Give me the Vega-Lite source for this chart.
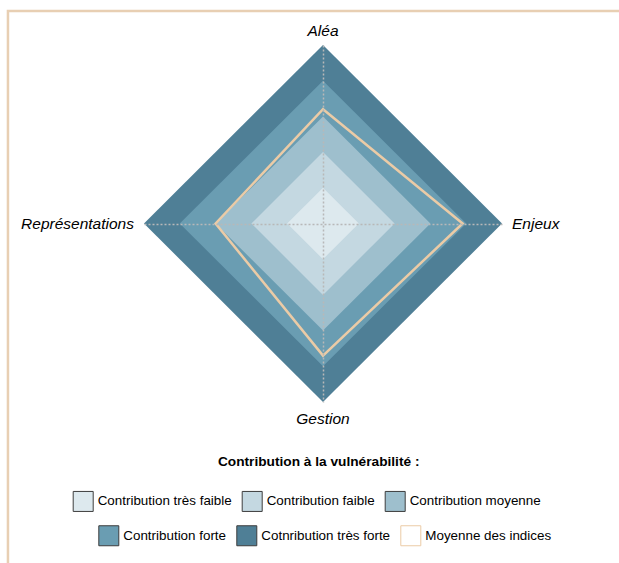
{
  "$schema": "https://vega.github.io/schema/vega-lite/v6.json",
  "width": 358,
  "height": 357,
  "autosize": {"type": "none"},
  "padding": {"left": 144, "top": 45, "right": 117, "bottom": 161},
  "background": "white",
  "config": {"font": "Liberation Sans", "view": {"stroke": null}},
  "datasets": {
    "levels": [
      {"serie": "Cotnribution très forte", "value": 5, "axis": "Enjeux"},
      {"serie": "Cotnribution très forte", "value": 5, "axis": "Aléa"},
      {"serie": "Cotnribution très forte", "value": 5, "axis": "Représentations"},
      {"serie": "Cotnribution très forte", "value": 5, "axis": "Gestion"},
      {"serie": "Contribution forte", "value": 4, "axis": "Enjeux"},
      {"serie": "Contribution forte", "value": 4, "axis": "Aléa"},
      {"serie": "Contribution forte", "value": 4, "axis": "Représentations"},
      {"serie": "Contribution forte", "value": 4, "axis": "Gestion"},
      {"serie": "Contribution moyenne", "value": 3, "axis": "Enjeux"},
      {"serie": "Contribution moyenne", "value": 3, "axis": "Aléa"},
      {"serie": "Contribution moyenne", "value": 3, "axis": "Représentations"},
      {"serie": "Contribution moyenne", "value": 3, "axis": "Gestion"},
      {"serie": "Contribution faible", "value": 2, "axis": "Enjeux"},
      {"serie": "Contribution faible", "value": 2, "axis": "Aléa"},
      {"serie": "Contribution faible", "value": 2, "axis": "Représentations"},
      {"serie": "Contribution faible", "value": 2, "axis": "Gestion"},
      {"serie": "Contribution très faible", "value": 1, "axis": "Enjeux"},
      {"serie": "Contribution très faible", "value": 1, "axis": "Aléa"},
      {"serie": "Contribution très faible", "value": 1, "axis": "Représentations"},
      {"serie": "Contribution très faible", "value": 1, "axis": "Gestion"}
    ],
    "mean": [
      {"serie": "Moyenne des indices", "axis": "Aléa", "value": 3.2},
      {"serie": "Moyenne des indices", "axis": "Enjeux", "value": 3.9},
      {"serie": "Moyenne des indices", "axis": "Représentations", "value": 3.0},
      {"serie": "Moyenne des indices", "axis": "Gestion", "value": 3.7}
    ],
    "axes": [
      {"axis": "Aléa"},
      {"axis": "Enjeux"},
      {"axis": "Représentations"},
      {"axis": "Gestion"}
    ]
  },
  "layer": [
    {
      "data": {"values": [{}]},
      "mark": {"type": "rect", "filled": false, "stroke": "#e8cfb3", "strokeWidth": 2.5, "clip": false},
      "encoding": {
        "x": {"datum": -8.8, "type": "quantitative", "scale": {"domain": [-5, 5], "nice": false, "zero": false}, "axis": {"values": [0], "grid": true, "gridDash": [2, 2], "gridColor": "#b8b8b8", "gridWidth": 1.5, "labels": false, "ticks": false, "domain": false, "title": null, "zindex": 1}},
        "x2": {"datum": 40},
        "y": {"datum": 5.95, "type": "quantitative", "scale": {"domain": [-5, 5], "nice": false, "zero": false}, "axis": {"values": [0], "grid": true, "gridDash": [2, 2], "gridColor": "#b8b8b8", "gridWidth": 1.5, "labels": false, "ticks": false, "domain": false, "title": null, "zindex": 1}},
        "y2": {"datum": -40}
      }
    },
    {
      "data": {"name": "levels"},
      "transform": [
        {"filter": "datum.value >= 4"},
        {"calculate": "indexof(['Enjeux','Aléa','Représentations','Gestion'], datum.axis) * PI / 2", "as": "angle"},
        {"calculate": "datum.value * cos(datum.angle)", "as": "px"},
        {"calculate": "datum.value * sin(datum.angle)", "as": "py"}
      ],
      "mark": {"type": "line", "interpolate": "linear-closed", "strokeWidth": 0, "strokeOpacity": 0},
      "encoding": {
        "x": {"field": "px", "type": "quantitative", "scale": {"domain": [-5, 5], "nice": false, "zero": false}, "axis": {"values": [0], "grid": true, "gridDash": [2, 2], "gridColor": "#b8b8b8", "gridWidth": 1.5, "labels": false, "ticks": false, "domain": false, "title": null, "zindex": 1}},
        "y": {"field": "py", "type": "quantitative", "scale": {"domain": [-5, 5], "nice": false, "zero": false}, "axis": {"values": [0], "grid": true, "gridDash": [2, 2], "gridColor": "#b8b8b8", "gridWidth": 1.5, "labels": false, "ticks": false, "domain": false, "title": null, "zindex": 1}},
        "order": {"field": "angle"},
        "fill": {
          "field": "serie",
          "type": "nominal",
          "scale": {"domain": ["Contribution forte", "Cotnribution très forte", "Moyenne des indices"], "range": ["#6a9db2", "#4f7f96", "#ffffff"]},
          "legend": {
            "orient": "none",
            "legendX": -45.7,
            "legendY": 480,
            "direction": "horizontal",
            "title": null,
            "symbolType": "square",
            "symbolSize": 400,
            "symbolStrokeWidth": 1,
            "symbolStrokeColor": "#3d3d3d",
            "labelFontSize": 13.4,
            "labelLimit": 300,
            "labelColor": "#000000",
            "labelOffset": 4,
            "columnPadding": 8,
            "padding": 0,
            "encode": {
              "symbols": {"update": {"stroke": {"signal": "datum.value === 'Moyenne des indices' ? '#ebcba6' : '#3d3d3d'"}, "strokeWidth": {"value": 1}}}
            }
          }
        }
      }
    },
    {
      "data": {"name": "levels"},
      "transform": [
        {"filter": "datum.value <= 3"},
        {"calculate": "indexof(['Enjeux','Aléa','Représentations','Gestion'], datum.axis) * PI / 2", "as": "angle"},
        {"calculate": "datum.value * cos(datum.angle)", "as": "px"},
        {"calculate": "datum.value * sin(datum.angle)", "as": "py"}
      ],
      "mark": {"type": "line", "interpolate": "linear-closed", "strokeWidth": 0, "strokeOpacity": 0},
      "encoding": {
        "x": {"field": "px", "type": "quantitative", "scale": {"domain": [-5, 5], "nice": false, "zero": false}, "axis": {"values": [0], "grid": true, "gridDash": [2, 2], "gridColor": "#b8b8b8", "gridWidth": 1.5, "labels": false, "ticks": false, "domain": false, "title": null, "zindex": 1}},
        "y": {"field": "py", "type": "quantitative", "scale": {"domain": [-5, 5], "nice": false, "zero": false}, "axis": {"values": [0], "grid": true, "gridDash": [2, 2], "gridColor": "#b8b8b8", "gridWidth": 1.5, "labels": false, "ticks": false, "domain": false, "title": null, "zindex": 1}},
        "order": {"field": "angle"},
        "fill": {
          "field": "serie",
          "type": "nominal",
          "scale": {"domain": ["Contribution très faible", "Contribution faible", "Contribution moyenne"], "range": ["#dde9ee", "#c4d8e1", "#9ebfcd"]},
          "legend": {
            "orient": "none",
            "legendX": -71.3,
            "legendY": 410,
            "direction": "horizontal",
            "title": "Contribution à la vulnérabilité :",
            "titleFontSize": 13.7,
            "titleFontWeight": "bold",
            "titleColor": "#000000",
            "titleAnchor": "middle",
            "titleLimit": 500,
            "titlePadding": 22,
            "symbolType": "square",
            "symbolSize": 400,
            "symbolStrokeWidth": 1,
            "symbolStrokeColor": "#3d3d3d",
            "labelFontSize": 13.4,
            "labelLimit": 300,
            "labelColor": "#000000",
            "labelOffset": 4,
            "columnPadding": 8,
            "padding": 0,
            "encode": {
              "title": {"update": {"dx": {"value": 12}}}
            }
          }
        }
      }
    },
    {
      "data": {"name": "mean"},
      "transform": [
        {"calculate": "indexof(['Enjeux','Aléa','Représentations','Gestion'], datum.axis) * PI / 2", "as": "angle"},
        {"calculate": "datum.value * cos(datum.angle)", "as": "px"},
        {"calculate": "datum.value * sin(datum.angle)", "as": "py"}
      ],
      "mark": {"type": "line", "interpolate": "linear-closed", "stroke": "#ebcba6", "strokeWidth": 2.5},
      "encoding": {
        "x": {"field": "px", "type": "quantitative", "scale": {"domain": [-5, 5], "nice": false, "zero": false}, "axis": {"values": [0], "grid": true, "gridDash": [2, 2], "gridColor": "#b8b8b8", "gridWidth": 1.5, "labels": false, "ticks": false, "domain": false, "title": null, "zindex": 1}},
        "y": {"field": "py", "type": "quantitative", "scale": {"domain": [-5, 5], "nice": false, "zero": false}, "axis": {"values": [0], "grid": true, "gridDash": [2, 2], "gridColor": "#b8b8b8", "gridWidth": 1.5, "labels": false, "ticks": false, "domain": false, "title": null, "zindex": 1}},
        "order": {"field": "angle"}
      }
    },
    {
      "data": {"name": "axes"},
      "transform": [
        {"calculate": "indexof(['Enjeux','Aléa','Représentations','Gestion'], datum.axis) * PI / 2", "as": "angle"},
        {"calculate": "datum.axis === 'Gestion' ? 5.47 : (datum.axis === 'Aléa' ? 5.38 : 5.28)", "as": "r"},
        {"calculate": "datum.r * cos(datum.angle)", "as": "px"},
        {"calculate": "datum.r * sin(datum.angle)", "as": "py"}
      ],
      "mark": {
        "type": "text",
        "fontStyle": "italic",
        "fontSize": 15.5,
        "baseline": "middle",
        "color": "#000000",
        "align": {"expr": "datum.axis === 'Enjeux' ? 'left' : (datum.axis === 'Représentations' ? 'right' : 'center')"}
      },
      "encoding": {
        "x": {"field": "px", "type": "quantitative", "scale": {"domain": [-5, 5], "nice": false, "zero": false}, "axis": {"values": [0], "grid": true, "gridDash": [2, 2], "gridColor": "#b8b8b8", "gridWidth": 1.5, "labels": false, "ticks": false, "domain": false, "title": null, "zindex": 1}},
        "y": {"field": "py", "type": "quantitative", "scale": {"domain": [-5, 5], "nice": false, "zero": false}, "axis": {"values": [0], "grid": true, "gridDash": [2, 2], "gridColor": "#b8b8b8", "gridWidth": 1.5, "labels": false, "ticks": false, "domain": false, "title": null, "zindex": 1}},
        "text": {"field": "axis"}
      }
    }
  ],
  "resolve": {"scale": {"fill": "independent"}, "legend": {"fill": "independent"}}
}
